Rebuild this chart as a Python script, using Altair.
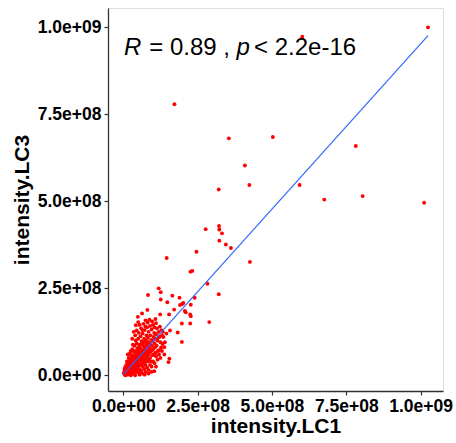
import altair as alt
import pandas as pd

# values in units of 1e8
outlier_x = [10.25, 6.02, 1.72, 3.55, 5.03, 7.82, 4.09, 4.24, 3.21, 5.93, 6.76, 8.05, 10.12]
outlier_y = [10.0, 9.73, 7.79, 6.81, 6.85, 6.59, 6.03, 5.47, 5.34, 5.47, 5.05, 5.15, 4.96]

mid_x = [2.77, 3.22, 3.23, 3.32, 3.23, 3.45, 3.62, 4.26, 1.46, 2.46, 2.26, 2.32, 2.83, 3.21,
         1.19, 1.26, 0.83, 1.65, 1.89, 2.40, 1.26, 1.48, 1.98, 1.91, 2.02, 2.27, 0.81, 1.71,
         2.07, 2.10, 0.63, 0.49, 1.24, 1.54, 2.25, 2.27, 2.89, 1.97, 2.25, 1.83, 1.57, 1.97,
         1.38, 1.55, 1.52, 1.04, 0.45, 0.42, 0.50]
mid_y = [4.20, 4.29, 4.19, 4.08, 3.87, 3.76, 3.66, 3.26, 3.37, 3.55, 2.98, 3.00, 2.63, 2.33,
         2.50, 2.39, 2.31, 2.29, 2.23, 2.23, 2.18, 2.10, 2.05, 2.02, 2.08, 2.03, 1.88, 1.89,
         1.85, 1.81, 1.78, 1.68, 1.75, 1.75, 1.75, 1.70, 1.53, 1.49, 1.49, 1.23, 1.29, 0.96,
         0.81, 0.48, 0.38, 0.12, 1.29, 1.44, 1.53]

core_x = [0.02, 0.05, 0.08, 0.10, 0.12, 0.15, 0.18, 0.20, 0.22, 0.25, 0.27, 0.30, 0.30, 0.33,
          0.35, 0.36, 0.38, 0.40, 0.42, 0.44, 0.45, 0.47, 0.50, 0.50, 0.52, 0.55, 0.56, 0.58,
          0.60, 0.62, 0.63, 0.65, 0.66, 0.68, 0.70, 0.72, 0.73, 0.75, 0.77, 0.78, 0.80, 0.82,
          0.84, 0.85, 0.88, 0.90, 0.92, 0.94, 0.96, 0.98, 1.00, 1.02, 1.05, 1.08, 1.10, 1.12,
          1.15, 1.18, 1.20, 1.22, 1.25, 1.28, 1.30, 1.32,
          0.05, 0.10, 0.12, 0.18, 0.20, 0.22, 0.28, 0.30, 0.35, 0.38, 0.40, 0.45, 0.48, 0.50,
          0.55, 0.58, 0.62, 0.65, 0.70, 0.72, 0.78, 0.80, 0.85, 0.90, 0.95, 1.00, 1.05, 1.10,
          0.30, 0.40, 0.60, 0.68, 0.75, 0.88, 0.35, 0.55,
          0.25, 0.35, 0.40, 0.50, 0.55, 0.60, 0.65, 0.70, 0.75, 0.80, 0.85, 0.90, 0.95, 1.00,
          1.05, 1.10, 1.15, 1.20, 1.25, 0.72, 0.85, 0.95, 1.10, 1.30, 1.40, 1.35, 1.45,
          0.03, 0.06, 0.07, 0.09, 0.11, 0.13, 0.14, 0.16, 0.17, 0.19, 0.21, 0.23, 0.24, 0.26,
          0.28, 0.29, 0.31, 0.32, 0.34, 0.37, 0.39, 0.41, 0.43, 0.46, 0.49, 0.51, 0.53, 0.54,
          0.57, 0.59, 0.61, 0.64, 0.67, 0.69, 0.71, 0.74, 0.76, 0.79, 0.81, 0.83, 0.86, 0.87,
          0.04, 0.07, 0.09, 0.11, 0.14, 0.16, 0.19, 0.21, 0.24, 0.26, 0.29, 0.31, 0.33, 0.36,
          0.39, 0.41, 0.43, 0.46, 0.48, 0.51, 0.53, 0.56, 0.59, 0.61, 0.63, 0.66, 0.68, 0.71,
          0.73, 0.76, 0.78, 0.81, 0.83, 0.86, 0.89, 0.91, 0.93, 0.96, 0.99, 1.01, 1.04, 1.06,
          1.09, 1.13, 1.16, 1.19, 1.23, 1.27, 1.33, 1.38, 0.15, 0.25, 0.32, 0.42, 0.52, 0.64,
          0.74, 0.82, 0.97, 1.08]
core_y = [0.05, 0.02, 0.10, 0.04, 0.15, 0.08, 0.22, 0.12, 0.05, 0.28, 0.18, 0.10, 0.35, 0.25,
          0.15, 0.42, 0.30, 0.20, 0.48, 0.35, 0.10, 0.55, 0.40, 0.25, 0.60, 0.45, 0.30, 0.15,
          0.65, 0.52, 0.38, 0.72, 0.25, 0.58, 0.45, 0.80, 0.65, 0.30, 0.52, 0.88, 0.70, 0.40,
          0.60, 0.95, 0.78, 0.50, 0.68, 1.02, 0.85, 0.58, 0.75, 1.10, 0.92, 0.65, 1.18, 0.85,
          1.00, 1.25, 0.72, 1.10, 0.95, 1.30, 1.15, 0.90,
          0.20, 0.30, 0.40, 0.50, 0.38, 0.62, 0.55, 0.75, 0.68, 0.85, 0.60, 0.92, 0.78, 1.05,
          0.88, 1.12, 0.98, 1.20, 1.05, 1.30, 1.15, 1.38, 1.25, 1.42, 1.32, 1.45, 1.38, 1.50,
          1.05, 1.15, 1.35, 1.48, 1.58, 1.60, 1.25, 1.45,
          0.00, 0.05, 0.00, 0.08, 0.02, 0.12, 0.05, 0.18, 0.10, 0.22, 0.15, 0.30, 0.25, 0.40,
          0.35, 0.55, 0.45, 0.60, 0.50, 0.02, 0.05, 0.10, 0.25, 0.70, 0.95, 1.10, 1.20,
          0.08, 0.12, 0.00, 0.18, 0.09, 0.25, 0.02, 0.16, 0.32, 0.06, 0.27, 0.19, 0.38, 0.09,
          0.33, 0.44, 0.21, 0.50, 0.05, 0.36, 0.55, 0.13, 0.40, 0.62, 0.32, 0.70, 0.18, 0.52,
          0.78, 0.42, 0.28, 0.60, 0.85, 0.35, 0.62, 0.75, 0.48, 0.95, 0.58, 0.82, 0.45, 0.70,
          0.14, 0.24, 0.06, 0.20, 0.30, 0.10, 0.42, 0.15, 0.48, 0.22, 0.58, 0.40, 0.14, 0.52,
          0.24, 0.70, 0.28, 0.45, 0.20, 0.55, 0.82, 0.62, 0.32, 0.90, 0.70, 0.48, 0.95, 0.72,
          0.40, 1.00, 0.62, 0.85, 1.08, 0.62, 0.92, 1.15, 0.40, 0.72, 1.00, 0.60, 1.22, 0.80,
          1.05, 1.35, 0.70, 1.10, 1.40, 0.80, 1.25, 0.60, 0.60, 0.70, 0.88, 1.00, 1.22, 1.30,
          1.40, 1.52, 1.55, 1.62]

fit_x = [0.0, 10.25]
fit_y = [0.03, 9.76]

SCALE = 1e8
xs = outlier_x + mid_x + core_x
ys = outlier_y + mid_y + core_y
pts = pd.DataFrame({"x": [v * SCALE for v in xs], "y": [v * SCALE for v in ys]})
fit = pd.DataFrame({"x": [v * SCALE for v in fit_x], "y": [v * SCALE for v in fit_y]})

FONT = "Liberation Sans"
label_expr = "replace(format(datum.value, '.1e'), regexp('e\\\\+(\\\\d)$'), 'e+0$1')"
tick_vals = [0, 2.5e8, 5e8, 7.5e8, 1e9]

xenc = alt.X("x:Q", scale=alt.Scale(domain=[-0.515e8, 10.754e8], nice=False, zero=False),
             axis=alt.Axis(title="intensity.LC1", values=tick_vals, labelExpr=label_expr,
                           grid=False, domainColor="#333333", domainWidth=1.3,
                           tickColor="#333333", tickSize=4, tickWidth=1.2,
                           labelFont=FONT, labelFontSize=17.5, labelFontWeight="bold",
                           labelColor="black", labelPadding=2,
                           titleFont=FONT, titleFontSize=21, titleFontWeight="bold",
                           titleColor="black", titlePadding=1))
yenc = alt.Y("y:Q", scale=alt.Scale(domain=[-0.45e8, 10.555e8], nice=False, zero=False),
             axis=alt.Axis(title="intensity.LC3", values=tick_vals, labelExpr=label_expr,
                           grid=False, domainColor="#333333", domainWidth=1.3,
                           tickColor="#333333", tickSize=4, tickWidth=1.2,
                           labelFont=FONT, labelFontSize=17.5, labelFontWeight="bold",
                           labelColor="black", labelPadding=3,
                           titleFont=FONT, titleFontSize=21, titleFontWeight="bold",
                           titleColor="black", titlePadding=5))

points = alt.Chart(pts).mark_circle(size=15, color="#FF0000", opacity=1).encode(x=xenc, y=yenc)
line = alt.Chart(fit).mark_line(color="#3366FF", strokeWidth=1.2).encode(x="x:Q", y="y:Q")

seg_text = ["R", "= 0.89 ,", "p", "< 2.2e-16"]
seg_style = ["italic", "normal", "italic", "normal"]
seg_px = [16, 41.3, 128.5, 146.0]
ann = pd.DataFrame({"t": seg_text, "s": seg_style, "px": seg_px})
layers = []
for i in range(4):
    layers.append(
        alt.Chart(ann.iloc[[i]]).mark_text(font=FONT, fontSize=24, align="left",
                                            baseline="alphabetic", color="black",
                                            fontStyle=seg_style[i])
        .encode(x=alt.value(seg_px[i]), y=alt.value(47), text="t:N")
    )

chart = alt.layer(points, line, *layers).properties(
    width=335, height=383,
    autosize=alt.AutoSizeParams(type="none"),
    padding={"left": 108, "top": 8, "right": 13, "bottom": 52},
).configure_view(stroke=None).configure(background="white")

chart.save("out.html", embed_options={"renderer": "svg", "actions": False})
